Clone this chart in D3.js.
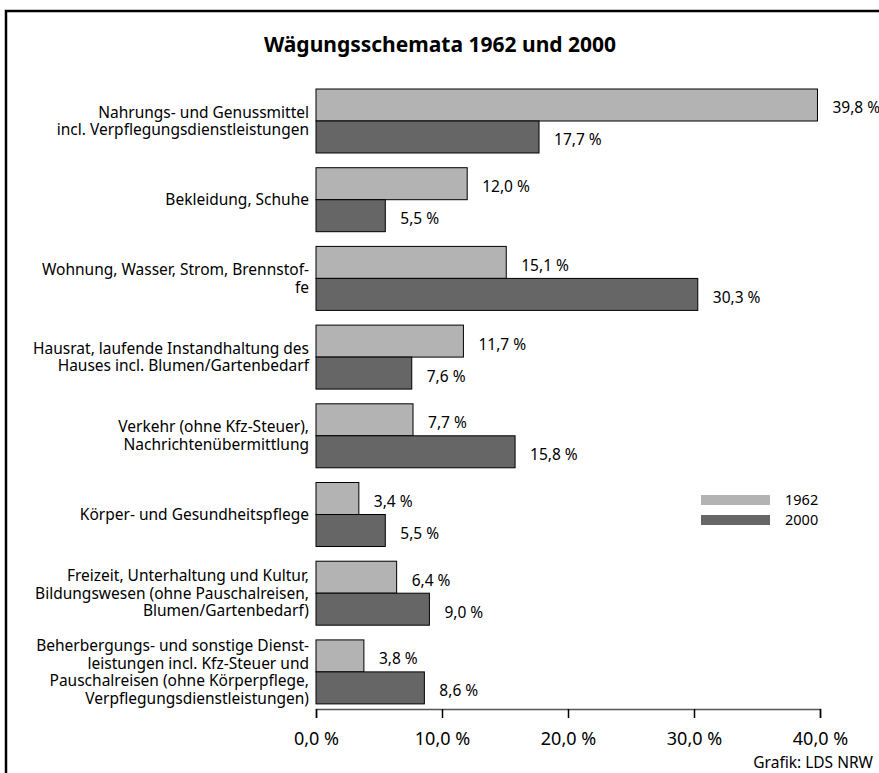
<!DOCTYPE html>
<html>
<head>
<meta charset="utf-8">
<script src="https://cdn.jsdelivr.net/npm/d3@7"></script>
<style>
  body { margin: 0; background: #fff; }
  text { font-family: "Noto Sans", "Open Sans", sans-serif; fill: #000; }
</style>
</head>
<body>
<div id="container"></div>
<script>
/* DATA */
const categories = [
  ["Nahrungs- und Genussmittel", "incl. Verpflegungsdienstleistungen"],
  ["Bekleidung, Schuhe"],
  ["Wohnung, Wasser, Strom, Brennstof-", "fe"],
  ["Hausrat, laufende Instandhaltung des", "Hauses incl. Blumen/Gartenbedarf"],
  ["Verkehr (ohne Kfz-Steuer),", "Nachrichtenübermittlung"],
  ["Körper- und Gesundheitspflege"],
  ["Freizeit, Unterhaltung und Kultur,", "Bildungswesen (ohne Pauschalreisen,", "Blumen/Gartenbedarf)"],
  ["Beherbergungs- und sonstige Dienst-", "leistungen incl. Kfz-Steuer und", "Pauschalreisen (ohne Körperpflege,", "Verpflegungsdienstleistungen)"]
];
const values1962 = [39.8, 12.0, 15.1, 11.7, 7.7, 3.4, 6.4, 3.8];
const values2000 = [17.7, 5.5, 30.3, 7.6, 15.8, 5.5, 9.0, 8.6];
const seriesNames = ["1962", "2000"];
const xTicks = [0, 10, 20, 30, 40];

/* CONSTANTS */
const width = 879, height = 773;
const colors = { "1962": "#b3b3b3", "2000": "#666666" };
const fmt = v => d3.format(".1f")(v).replace(".", ",") + " %";

const rows = categories.map((c, i) => ({
  i, label: c,
  vals: [{ key: "1962", v: values1962[i] }, { key: "2000", v: values2000[i] }]
}));

const svg = d3.select("#container").append("svg")
  .attr("width", width).attr("height", height);

// frame
svg.append("rect")
  .attr("x", 6).attr("y", 11)
  .attr("width", 900).attr("height", 800)
  .attr("fill", "none").attr("stroke", "#000").attr("stroke-width", 2.5);

// title
svg.append("text")
  .attr("x", 440).attr("y", 52)
  .attr("text-anchor", "middle")
  .style("font-size", "21px").style("font-weight", "bold")
  .text("Wägungsschemata 1962 und 2000");

/* SCALES */
const x = d3.scaleLinear().domain([0, 40]).range([316, 820]);
const y = d3.scaleBand().domain(d3.range(categories.length))
  .range([81.65, 711.25]).paddingInner(0.187).paddingOuter(0.0935);
const ySub = d3.scaleBand().domain(seriesNames).range([0, y.bandwidth()]);

/* BARS */
const groups = svg.append("g").selectAll("g").data(rows).join("g")
  .attr("transform", d => `translate(0,${y(d.i)})`);

groups.selectAll("rect").data(d => d.vals).join("rect")
  .attr("x", x(0))
  .attr("y", d => ySub(d.key))
  .attr("width", d => x(d.v) - x(0))
  .attr("height", ySub.bandwidth())
  .attr("fill", d => colors[d.key])
  .attr("stroke", "#000").attr("stroke-width", 1);

groups.selectAll("text.val").data(d => d.vals).join("text")
  .attr("class", "val")
  .attr("x", d => x(d.v) + 15)
  .attr("y", d => ySub(d.key) + ySub.bandwidth() / 2 + 3)
  .attr("dy", "0.35em")
  .style("font-size", "15.5px")
  .text(d => fmt(d.v));

// category labels
groups.append("text")
  .attr("text-anchor", "end")
  .style("font-size", "15.5px")
  .each(function (d) {
    const n = d.label.length, lh = 17.5;
    d3.select(this).selectAll("tspan").data(d.label).join("tspan")
      .attr("x", 309)
      .attr("y", (t, j) => y.bandwidth() / 2 + (j - (n - 1) / 2) * lh)
      .attr("dy", "0.35em")
      .text(t => t);
  });

/* AXIS */
const xAxis = d3.axisBottom(x).tickValues(xTicks).tickSize(9).tickPadding(14)
  .tickFormat(fmt);
const ax = svg.append("g")
  .attr("transform", "translate(0,709)")
  .call(xAxis);
ax.select(".domain").attr("stroke", "#555").attr("stroke-width", 1.5);
ax.selectAll(".tick line").attr("stroke", "#000").attr("stroke-width", 1.5);
ax.selectAll(".tick text").style("font-size", "18px")
  .style("font-family", "'Noto Sans', 'Open Sans', sans-serif");

/* LEGEND */
const legend = svg.append("g").selectAll("g").data(seriesNames).join("g")
  .attr("transform", (d, i) => `translate(701,${495 + i * 20})`);
legend.append("rect")
  .attr("width", 69).attr("height", 10)
  .attr("fill", d => colors[d]);
legend.append("text")
  .attr("x", 84).attr("y", 5).attr("dy", "0.35em")
  .style("font-size", "14.5px")
  .text(d => d);

// source
svg.append("text")
  .attr("x", 873).attr("y", 768)
  .attr("text-anchor", "end")
  .style("font-size", "15.5px")
  .text("Grafik: LDS NRW");
</script>
</body>
</html>
